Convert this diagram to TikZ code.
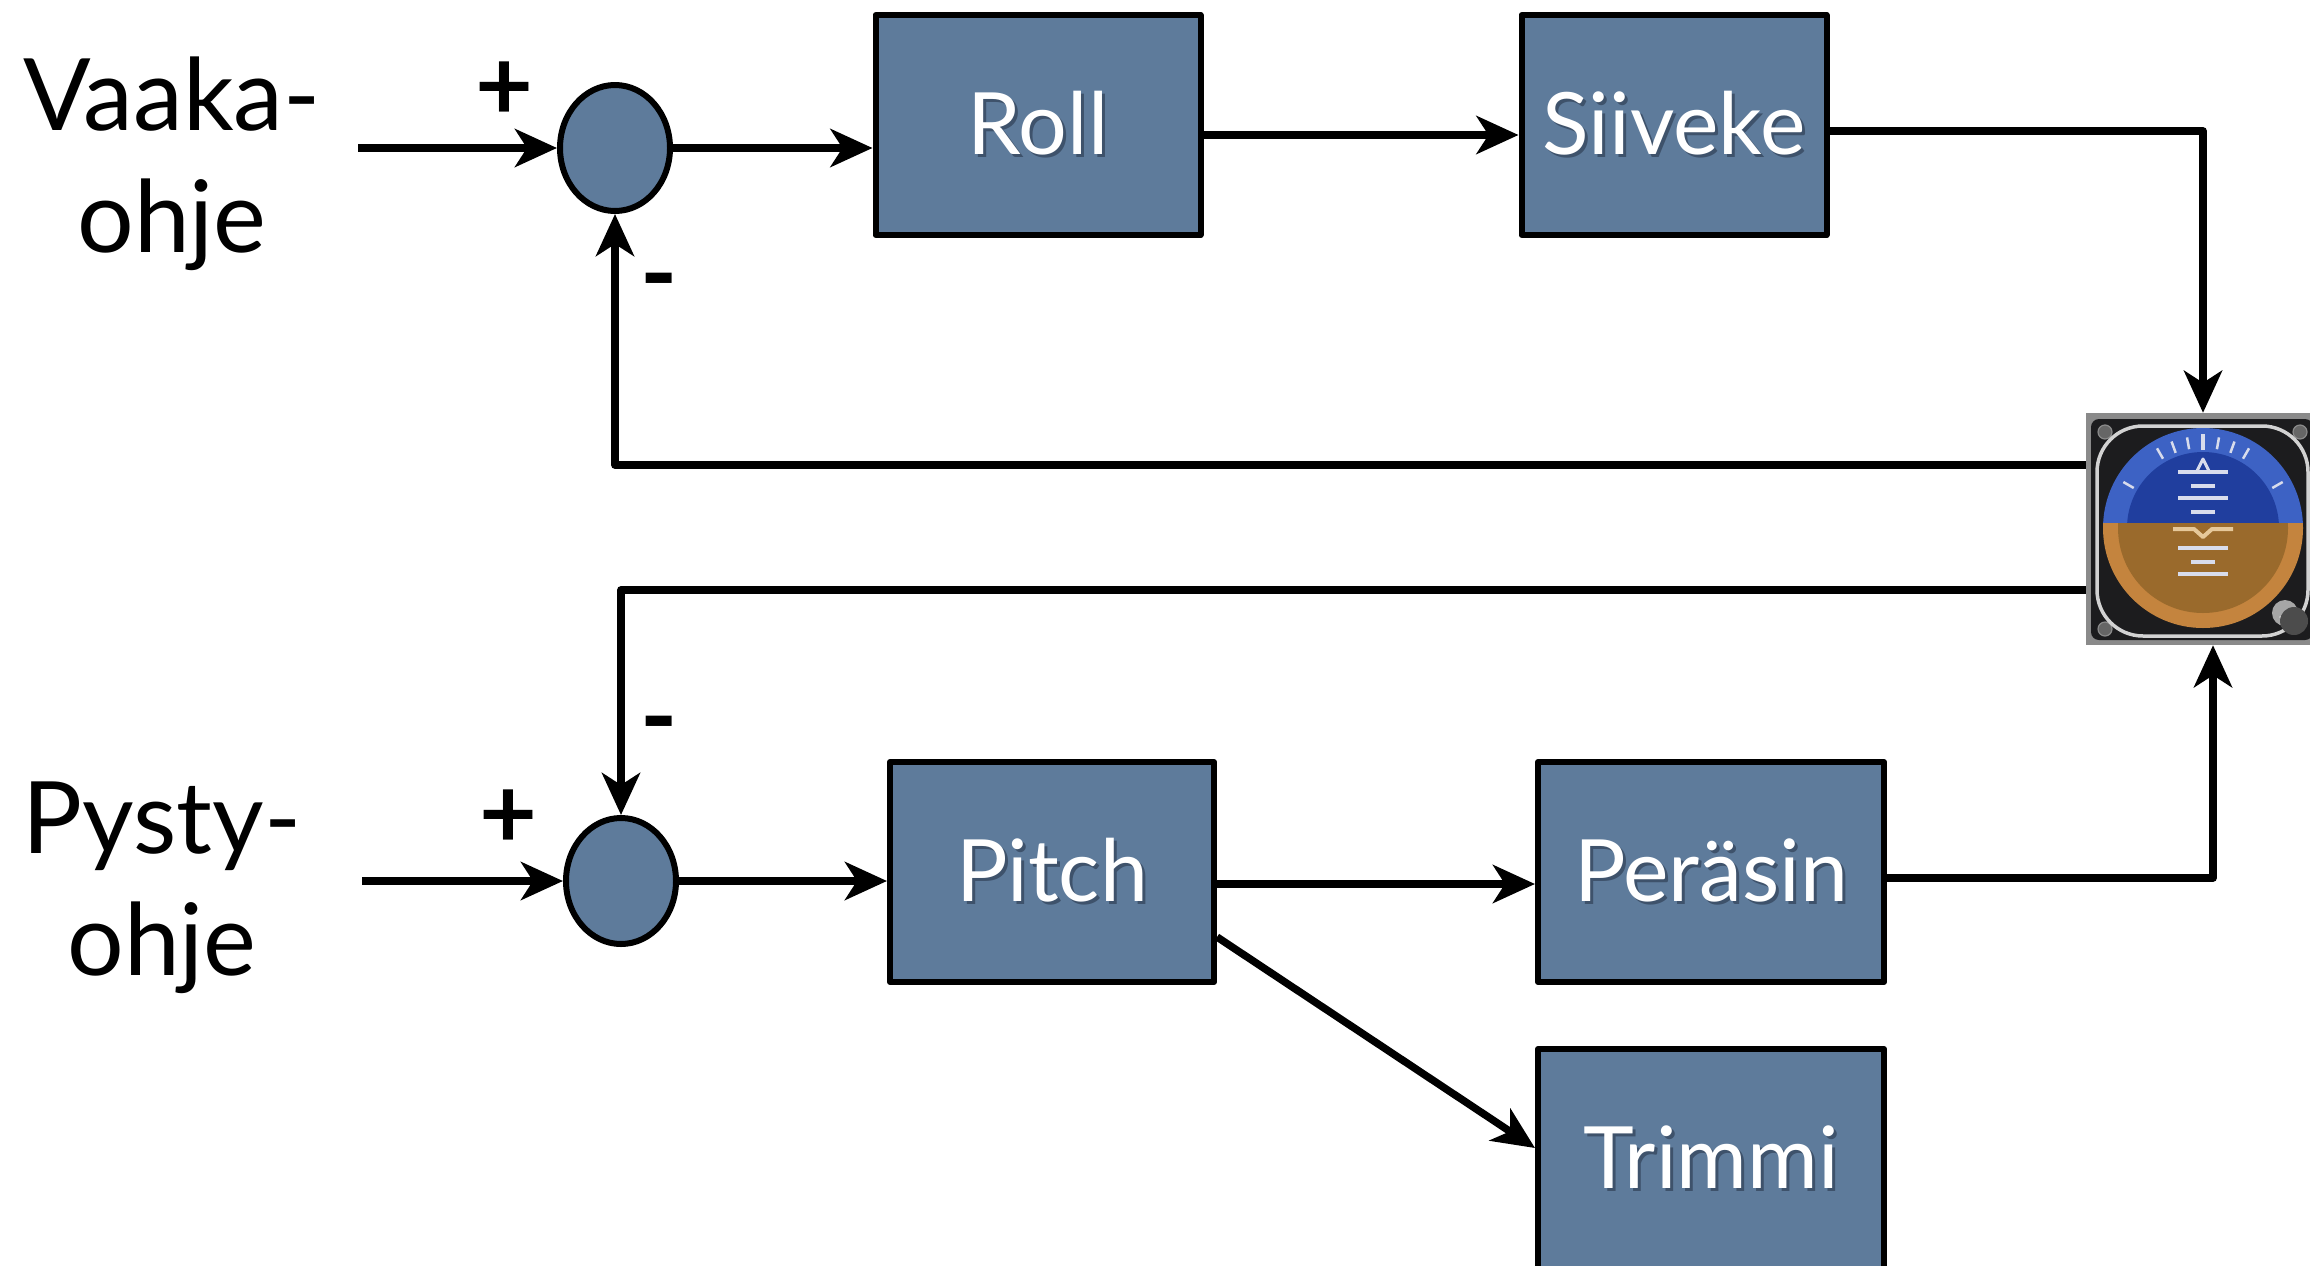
\documentclass[tikz,border=0pt]{standalone}
\usepackage{fontspec}
\setmainfont{Lato}
\usetikzlibrary{arrows.meta,shapes.geometric}

\definecolor{blockfill}{HTML}{5E7B9B}
\definecolor{blockshade}{HTML}{3E526B}
\definecolor{skyouter}{HTML}{3D62C4}
\definecolor{skyinner}{HTML}{203E9E}
\definecolor{groundouter}{HTML}{C4843E}
\definecolor{groundinner}{HTML}{9A6A2C}
\definecolor{bezel}{HTML}{1C1C1E}
\definecolor{casing}{HTML}{8A8A8A}
\definecolor{chrome}{HTML}{D2D2D2}
\definecolor{marking}{HTML}{D8DCEC}
\definecolor{plane}{HTML}{E6C89A}

% white block label with a dark drop shadow behind it
\newcommand{\blocklabel}[1]{\makebox[0pt][l]{\hspace{3pt}\raisebox{-3pt}{\color{blockshade}#1}}#1}

\begin{document}
\begin{tikzpicture}[
  x=1pt,
  y=-1pt,
  line join=round,
  block/.style={draw=black,line width=6pt,fill=blockfill,minimum width=#1,
    minimum height=220pt,inner sep=0pt,text=white,font=\fontsize{86}{100}\selectfont},
  sumpoint/.style={ellipse,draw=black,line width=6pt,fill=blockfill,
    minimum width=110pt,minimum height=126pt,inner sep=0pt},
  signal/.style={draw=black,line width=7.5pt,-{Stealth[length=42pt,width=38pt,inset=12pt]}},
  command/.style={align=center,anchor=base,font=\fontsize{100}{122}\selectfont},
  sign/.style={font=\fontsize{100}{100}\bfseries\selectfont}
]
  \useasboundingbox (0,0) rectangle (2310,1266);

  % Roll channel
  \node[command] (vaaka) at (172,252) {Vaaka-\\ohje};
  \coordinate (vaakain) at (358,148);
  \node[sumpoint] (sumroll) at (615,148) {};
  \node[sign] (plusroll) at (504,91) {+};
  \node[sign] (minusroll) at (659,291) {-};
  \node[block=325pt] (roll) at (1038,125) {\blocklabel{Roll}};
  \node[block=305pt] (siiveke) at (1674,125) {\blocklabel{Siiveke}};

  % Pitch channel
  \node[command] (pysty) at (162,975) {Pysty-\\ohje};
  \coordinate (pystyin) at (362,881);
  \node[sumpoint] (sumpitch) at (621,881) {};
  \node[sign] (pluspitch) at (508,819) {+};
  \node[sign] (minuspitch) at (659,734) {-};
  \node[block=324pt] (pitch) at (1052,872) {\blocklabel{Pitch}};
  \node[block=346pt] (perasin) at (1711,872) {\blocklabel{Peräsin}};
  \node[block=346pt] (trimmi) at (1711,1159) {\blocklabel{Trimmi}};

  % Attitude indicator
  \node[minimum width=230pt,minimum height=232pt,inner sep=0pt] (gyro) at (2201,529) {};
  \begin{scope}[shift={(gyro.center)}]
    \fill[casing] (-115,-116) rectangle (115,116);
    \fill[bezel,rounded corners=8pt] (-110,-110) rectangle (112,111);
    \foreach \sx/\sy in {-96/-97,99/-97,-96/100} {
      \fill[black!60] (\sx,\sy) circle[radius=7];
      \draw[casing,line width=1.2pt] (\sx,\sy) circle[radius=7];
    }
    \begin{scope}[shift={(2,-1)}]
      \begin{scope}
        \clip (0,0) circle[radius=100];
        \fill[skyouter] (-102,-102) rectangle (102,-5);
        \fill[groundouter] (-102,-5) rectangle (102,102);
      \end{scope}
      \begin{scope}
        \clip (0,0) circle[radius=76];
        \fill[skyinner] (-100,-100) rectangle (100,-5);
      \end{scope}
      \begin{scope}
        \clip (0,0) circle[radius=85];
        \fill[groundinner] (-100,-5) rectangle (100,100);
      \end{scope}
      % bank scale
      \foreach \a in {210,240,250,260,280,290,300,330} {
        \draw[marking,line width=2.5pt] (\a:80) -- (\a:92);
      }
      \draw[marking,line width=3.5pt] (270:78) -- (270:94);
      \draw[marking,line width=3pt] (-6,-57) -- (0,-69) -- (6,-57);
      % pitch ladder
      \foreach \ly/\lw in {-56/25,-42/12,-30/25,-16/12,20/25,34/12,46/25} {
        \draw[marking,line width=3.2pt] (-\lw,\ly) -- (\lw,\ly);
      }
      \draw[plane,line width=4pt] (-30,1) -- (-9,1) -- (0,9) -- (9,1) -- (30,1);
    \end{scope}
    \draw[chrome,line width=3.5pt,rounded corners=46pt] (-104,-103) rectangle (107,107);
    \fill[black!35] (84,84) circle[radius=13];
    \fill[black!15] (86,82) -- (96,94) -- (90,100) -- (78,88) -- cycle;
    \fill[black!70] (93,92) circle[radius=14];
  \end{scope}

  % Forward paths
  \draw[signal] (vaakain) -- (sumroll.west);
  \draw[signal] (sumroll.east) -- (roll.west |- sumroll.east);
  \draw[signal] ([yshift=-10pt]roll.east) -- ([yshift=-10pt]siiveke.west);
  \draw[signal] ([yshift=-6pt]siiveke.east) -| ([xshift=2pt]gyro.north);

  \draw[signal] (pystyin) -- (sumpitch.west);
  \draw[signal] (sumpitch.east) -- (pitch.west |- sumpitch.east);
  \draw[signal] ([yshift=-12pt]pitch.east) -- ([yshift=-12pt]perasin.west);
  \draw[signal] ([yshift=-65pt]pitch.east) -- ([yshift=11pt]trimmi.west);
  \draw[signal] ([yshift=-6pt]perasin.east) -| ([xshift=12pt]gyro.south);

  % Feedback from the horizon
  \draw[signal] ([yshift=64pt]gyro.west) -| (sumroll.south);
  \draw[signal] ([yshift=-61pt]gyro.west) -| (sumpitch.north);
\end{tikzpicture}
\end{document}
